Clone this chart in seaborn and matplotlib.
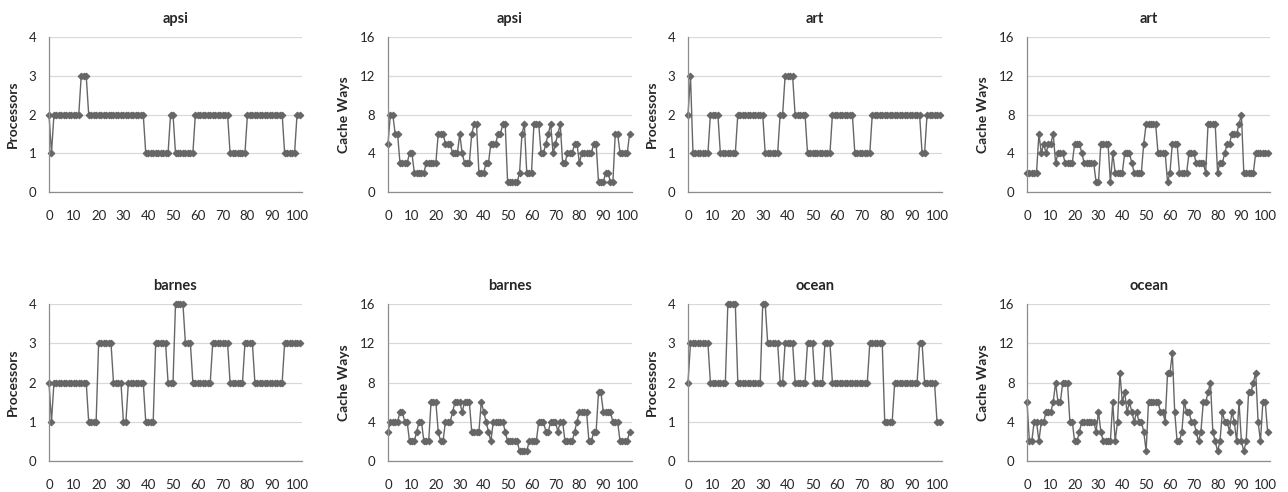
import numpy as np
import pandas as pd
import matplotlib
matplotlib.use("Agg")
import matplotlib.pyplot as plt
import seaborn as sns

sns.set_style("white")
plt.rcParams['font.family'] = ['Lato', 'DejaVu Sans']

# time steps 0..101
steps = list(range(102))

apsi_proc = [2, 1, 2, 2, 2, 2, 2, 2, 2, 2,
             2, 2, 2, 3, 3, 3, 2, 2, 2, 2,
             2, 2, 2, 2, 2, 2, 2, 2, 2, 2,
             2, 2, 2, 2, 2, 2, 2, 2, 2, 1,
             1, 1, 1, 1, 1, 1, 1, 1, 1, 2,
             2, 1, 1, 1, 1, 1, 1, 1, 1, 2,
             2, 2, 2, 2, 2, 2, 2, 2, 2, 2,
             2, 2, 2, 1, 1, 1, 1, 1, 1, 1,
             2, 2, 2, 2, 2, 2, 2, 2, 2, 2,
             2, 2, 2, 2, 2, 1, 1, 1, 1, 1,
             2, 2]
apsi_cache = [5, 8, 8, 6, 6, 3, 3, 3, 3, 4,
              4, 2, 2, 2, 2, 2, 3, 3, 3, 3,
              3, 6, 6, 6, 5, 5, 5, 4, 4, 4,
              6, 4, 3, 3, 3, 6, 7, 7, 2, 2,
              2, 3, 3, 5, 5, 5, 6, 6, 7, 7,
              1, 1, 1, 1, 1, 2, 6, 7, 2, 2,
              2, 7, 7, 7, 4, 4, 5, 6, 7, 4,
              5, 6, 7, 3, 3, 4, 4, 4, 5, 5,
              3, 4, 4, 4, 4, 4, 5, 5, 1, 1,
              1, 2, 2, 1, 1, 6, 6, 4, 4, 4,
              4, 6]
art_proc = [2, 3, 1, 1, 1, 1, 1, 1, 1, 2,
            2, 2, 2, 1, 1, 1, 1, 1, 1, 1,
            2, 2, 2, 2, 2, 2, 2, 2, 2, 2,
            2, 1, 1, 1, 1, 1, 1, 2, 2, 3,
            3, 3, 3, 2, 2, 2, 2, 2, 1, 1,
            1, 1, 1, 1, 1, 1, 1, 1, 2, 2,
            2, 2, 2, 2, 2, 2, 2, 1, 1, 1,
            1, 1, 1, 1, 2, 2, 2, 2, 2, 2,
            2, 2, 2, 2, 2, 2, 2, 2, 2, 2,
            2, 2, 2, 2, 1, 1, 2, 2, 2, 2,
            2, 2]
art_cache = [2, 2, 2, 2, 2, 6, 4, 5, 4, 5,
             5, 6, 3, 4, 4, 4, 3, 3, 3, 3,
             5, 5, 5, 4, 3, 3, 3, 3, 3, 1,
             1, 5, 5, 5, 5, 1, 4, 2, 2, 2,
             2, 4, 4, 4, 3, 2, 2, 2, 2, 5,
             7, 7, 7, 7, 7, 4, 4, 4, 4, 1,
             2, 5, 5, 5, 2, 2, 2, 2, 4, 4,
             4, 3, 3, 3, 3, 2, 7, 7, 7, 7,
             2, 3, 3, 4, 5, 5, 6, 6, 6, 7,
             8, 2, 2, 2, 2, 2, 4, 4, 4, 4,
             4, 4]
barnes_proc = [2, 1, 2, 2, 2, 2, 2, 2, 2, 2,
               2, 2, 2, 2, 2, 2, 1, 1, 1, 1,
               3, 3, 3, 3, 3, 3, 2, 2, 2, 2,
               1, 1, 2, 2, 2, 2, 2, 2, 2, 1,
               1, 1, 1, 3, 3, 3, 3, 3, 2, 2,
               2, 4, 4, 4, 4, 3, 3, 3, 2, 2,
               2, 2, 2, 2, 2, 2, 3, 3, 3, 3,
               3, 3, 3, 2, 2, 2, 2, 2, 2, 3,
               3, 3, 3, 2, 2, 2, 2, 2, 2, 2,
               2, 2, 2, 2, 2, 3, 3, 3, 3, 3,
               3, 3]
barnes_cache = [3, 4, 4, 4, 4, 5, 5, 4, 4, 2,
                2, 2, 3, 4, 4, 2, 2, 2, 6, 6,
                6, 3, 2, 2, 4, 4, 4, 5, 6, 6,
                6, 5, 6, 6, 6, 3, 3, 3, 3, 6,
                5, 4, 3, 2, 4, 4, 4, 4, 4, 3,
                2, 2, 2, 2, 2, 1, 1, 1, 1, 2,
                2, 2, 2, 4, 4, 4, 3, 3, 4, 4,
                4, 3, 4, 4, 2, 2, 2, 2, 3, 4,
                5, 5, 5, 5, 2, 2, 3, 3, 7, 7,
                5, 5, 5, 5, 4, 4, 4, 2, 2, 2,
                2, 3]
ocean_proc = [2, 3, 3, 3, 3, 3, 3, 3, 3, 2,
              2, 2, 2, 2, 2, 2, 4, 4, 4, 4,
              2, 2, 2, 2, 2, 2, 2, 2, 2, 2,
              4, 4, 3, 3, 3, 3, 3, 2, 2, 3,
              3, 3, 3, 2, 2, 2, 2, 2, 3, 3,
              3, 2, 2, 2, 2, 3, 3, 3, 2, 2,
              2, 2, 2, 2, 2, 2, 2, 2, 2, 2,
              2, 2, 2, 3, 3, 3, 3, 3, 3, 1,
              1, 1, 1, 2, 2, 2, 2, 2, 2, 2,
              2, 2, 2, 3, 3, 2, 2, 2, 2, 2,
              1, 1]
ocean_cache = [6, 2, 2, 4, 4, 2, 4, 4, 5, 5,
               5, 6, 8, 6, 6, 8, 8, 8, 4, 4,
               2, 2, 3, 4, 4, 4, 4, 4, 4, 3,
               5, 3, 2, 2, 2, 2, 6, 2, 4, 9,
               6, 7, 5, 6, 5, 4, 5, 4, 4, 3,
               1, 6, 6, 6, 6, 6, 5, 5, 4, 9,
               9, 11, 5, 2, 2, 3, 6, 5, 5, 4,
               4, 3, 2, 3, 6, 6, 7, 8, 3, 2,
               1, 2, 5, 4, 4, 3, 5, 4, 2, 6,
               2, 1, 2, 7, 7, 8, 9, 4, 2, 6,
               6, 3]

panels = [
    ("apsi", "Processors", apsi_proc),
    ("apsi", "Cache Ways", apsi_cache),
    ("art", "Processors", art_proc),
    ("art", "Cache Ways", art_cache),
    ("barnes", "Processors", barnes_proc),
    ("barnes", "Cache Ways", barnes_cache),
    ("ocean", "Processors", ocean_proc),
    ("ocean", "Cache Ways", ocean_cache),
]

# axes positions in figure pixels (left, right) per column, (bottom, top) per row
W, H = 1288, 492
cols = [(49, 302), (388, 632), (688, 942), (1027, 1270)]
rows = [(192, 37), (461, 304)]

line_col = "#666666"
grid_col = "#d9d9d9"
spine_col = "#8c8c8c"

fig = plt.figure(figsize=(W / 100, H / 100), dpi=100)

for i, (name, ylab, vals) in enumerate(panels):
    r, c = divmod(i, 4)
    x0, x1 = cols[c]
    yb, yt = rows[r]
    ax = fig.add_axes([x0 / W, 1 - yb / H, (x1 - x0) / W, (yb - yt) / H])
    df = pd.DataFrame({"t": steps, "v": vals})
    sns.lineplot(data=df, x="t", y="v", ax=ax, color=line_col, lw=1.0,
                 marker="D", markersize=3.4, markeredgecolor=line_col,
                 markerfacecolor=line_col, clip_on=False)
    ax.set_xlim(0, 102)
    if ylab == "Processors":
        ax.set_ylim(0, 4)
        ax.set_yticks([0, 1, 2, 3, 4])
    else:
        ax.set_ylim(0, 16)
        ax.set_yticks([0, 4, 8, 12, 16])
    ax.set_xticks(range(0, 101, 10))
    ax.yaxis.grid(True, color=grid_col, lw=0.9)
    ax.set_axisbelow(True)
    for s in ["top", "right"]:
        ax.spines[s].set_visible(False)
    for s in ["left", "bottom"]:
        ax.spines[s].set_color(spine_col)
        ax.spines[s].set_linewidth(0.9)
    ax.tick_params(axis="x", length=4, width=0.8, color=spine_col,
                   direction="out", labelsize=9.5, pad=9)
    ax.tick_params(axis="y", length=0, labelsize=9.5, pad=9)
    ax.set_xlabel("")
    ax.set_ylabel(ylab, fontsize=10, fontweight="bold", labelpad=7)
    ax.set_title(name, fontsize=10.5, fontweight="bold", pad=10)

fig.savefig("out.png", dpi=100)
